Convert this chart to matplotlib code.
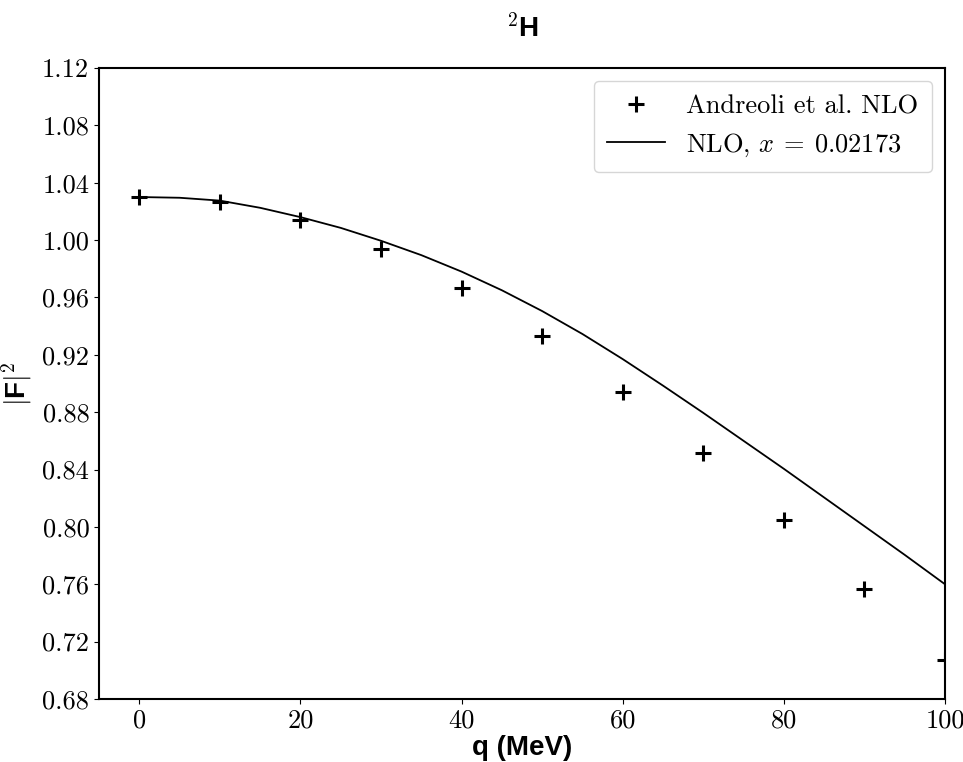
import matplotlib
matplotlib.use('Agg')
import matplotlib.pyplot as plt
from matplotlib.ticker import MultipleLocator, FormatStrFormatter

# fuentes tipo LaTeX
plt.rcParams['font.family'] = 'cmr10'
plt.rcParams['mathtext.fontset'] = 'cm'
plt.rcParams['axes.formatter.use_mathtext'] = True

# datos Andreoli et al. NLO
q_data = [0, 10, 20, 30, 40, 50, 60, 70, 80, 90, 100]
f2_data = [1.030, 1.0266, 1.014, 0.9938, 0.9666, 0.9331, 0.8941, 0.8515, 0.8048, 0.7567, 0.7072]

# curva NLO, x = 0.02173
q_nlo = [0, 5, 10, 15, 20, 25, 30, 35, 40, 45, 50, 55, 60, 65, 70, 75, 80, 85, 90, 95, 100]
f2_nlo = [1.0300, 1.0295, 1.0275, 1.0225, 1.0160, 1.0085, 0.9995, 0.9895, 0.9780, 0.9650,
          0.9505, 0.9345, 0.9170, 0.8985, 0.8795, 0.8600, 0.8405, 0.8205, 0.8005, 0.7805, 0.7600]

fig = plt.figure(figsize=(9.63, 7.62), dpi=100)
ax = fig.add_axes([0.1028, 0.0827, 0.8785, 0.8281])

ax.plot(q_data, f2_data, '+', color='black', markersize=11, markeredgewidth=2.2,
        label='Andreoli et al. NLO', zorder=3)
ax.plot(q_nlo, f2_nlo, '-', color='black', linewidth=1.3, label=r'NLO, $x \:=\: 0.02173$')

ax.set_xlim(-5, 100)
ax.set_ylim(0.68, 1.12)
ax.yaxis.set_major_locator(MultipleLocator(0.04))
ax.yaxis.set_major_formatter(FormatStrFormatter('%.2f'))
ax.xaxis.set_major_locator(MultipleLocator(20))
ax.xaxis.set_major_formatter(FormatStrFormatter('%d'))
ax.tick_params(labelsize=19, length=3.5, width=0.8)
for s in ax.spines.values():
    s.set_linewidth(1.5)

ax.set_xlabel('q (MeV)', fontsize=20, fontweight='bold', family='Liberation Sans', labelpad=2)
ax.set_ylabel(r'$|$F$|^{\mathbf{2}}$', fontsize=20, fontweight='bold', family='Liberation Sans', labelpad=6)
ax.set_title(r'$^{\mathbf{2}}$H', fontsize=20, fontweight='bold', family='Liberation Sans', pad=22)

ax.legend(loc='upper right', fontsize=19, handlelength=2.2, borderpad=0.5)

plt.savefig('out.png', dpi=100)
